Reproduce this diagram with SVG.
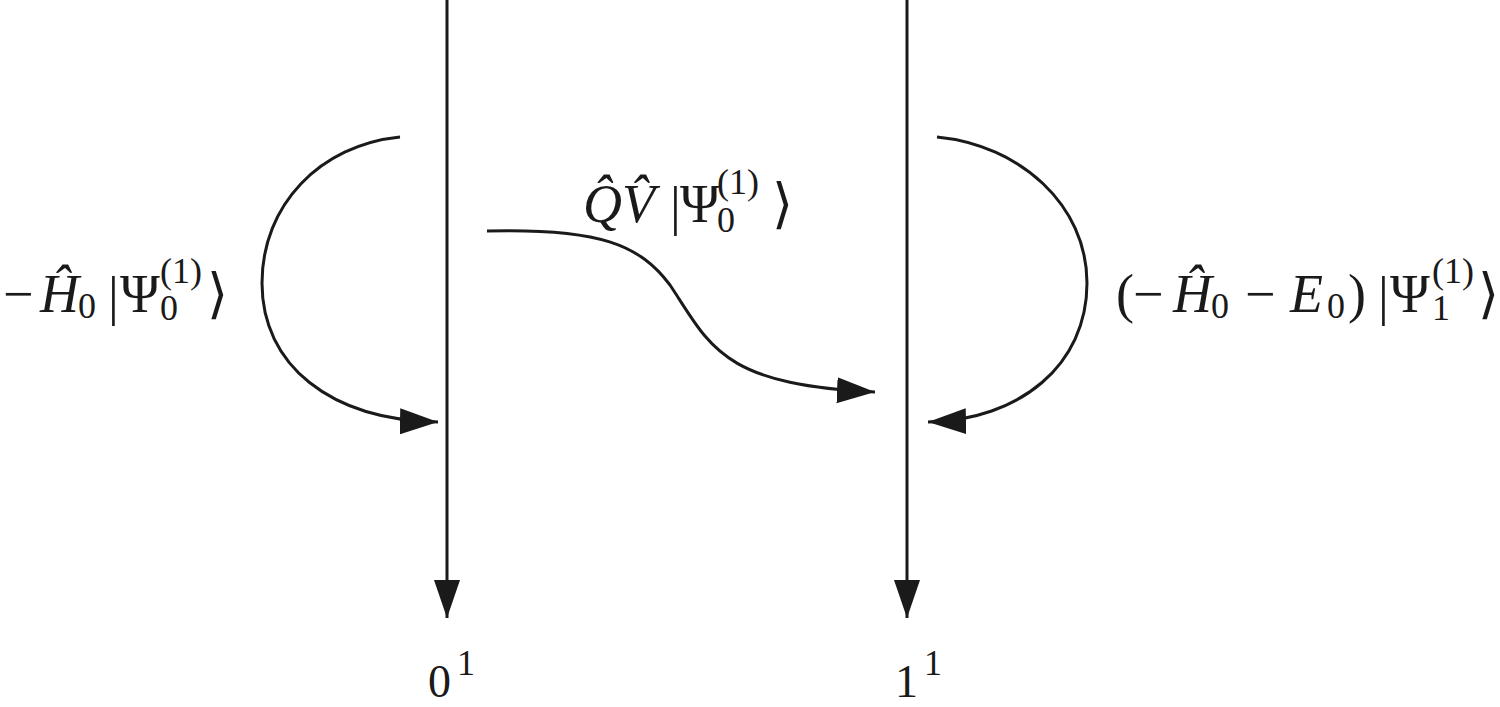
<svg xmlns="http://www.w3.org/2000/svg" width="1500" height="707" viewBox="0 0 1500 707">
<style>
.ln{fill:none;stroke:#1a1a1a;stroke-width:3}
text{font-family:"Liberation Serif","DejaVu Serif",serif;fill:#1a1a1a;font-size:54px}
.it{font-style:italic}
.s{font-size:36px}
</style>
<defs>
<marker id="ah" markerUnits="userSpaceOnUse" markerWidth="40" markerHeight="28" refX="38" refY="13" orient="auto">
<path d="M0,0 L38,13 L0,26 z" fill="#1a1a1a"/>
</marker>
</defs>
<rect width="1500" height="707" fill="#fff"/>
<g id="connectors">
<path class="ln" d="M447 0 V618" marker-end="url(#ah)"/>
<path class="ln" d="M907 0 V618" marker-end="url(#ah)"/>
<path class="ln" d="M400 137 C320 145,262 205,262 283 C262 365,330 420,438 422" marker-end="url(#ah)"/>
<path class="ln" d="M937 137 C1020 145,1087 205,1087 283 C1087 365,1020 420,928 422" marker-end="url(#ah)"/>
<path class="ln" d="M487 231 C600 228,640 245,670 285 C710 345,720 385,875 392" marker-end="url(#ah)"/>
</g>
<g id="label-left">
<text><tspan x="3" y="312">−</tspan><tspan x="40" y="312" class="it">H&#x302;</tspan><tspan x="78" y="318" class="s">0</tspan><tspan x="108" y="314">|</tspan><tspan x="120" y="312">Ψ</tspan><tspan x="160" y="283" class="s">(1)</tspan><tspan x="160" y="320" class="s">0</tspan><tspan x="207" y="312">⟩</tspan></text>
</g>
<g id="label-mid">
<text><tspan x="583" y="222" class="it">Q&#x302;</tspan><tspan x="622" y="222" class="it">V&#x302;</tspan><tspan x="670" y="224">|</tspan><tspan x="680" y="222">Ψ</tspan><tspan x="717" y="194" class="s">(1)</tspan><tspan x="717" y="232" class="s">0</tspan><tspan x="772" y="222">⟩</tspan></text>
</g>
<g id="label-right">
<text><tspan x="1116" y="312">(</tspan><tspan x="1133" y="312">−</tspan><tspan x="1173" y="312" class="it">H&#x302;</tspan><tspan x="1211" y="318" class="s">0</tspan><tspan x="1245" y="312">−</tspan><tspan x="1290" y="312" class="it">E</tspan><tspan x="1327" y="318" class="s">0</tspan><tspan x="1348" y="312">)</tspan><tspan x="1378" y="314">|</tspan><tspan x="1390" y="312">Ψ</tspan><tspan x="1432" y="283" class="s">(1)</tspan><tspan x="1432" y="320" class="s">1</tspan><tspan x="1478" y="312">⟩</tspan></text>
</g>
<g id="node-0">
<text><tspan x="428" y="697" font-size="46">0</tspan><tspan x="457" y="675" class="s">1</tspan></text>
</g>
<g id="node-1">
<text><tspan x="895" y="697" font-size="46">1</tspan><tspan x="924" y="675" class="s">1</tspan></text>
</g>
</svg>
